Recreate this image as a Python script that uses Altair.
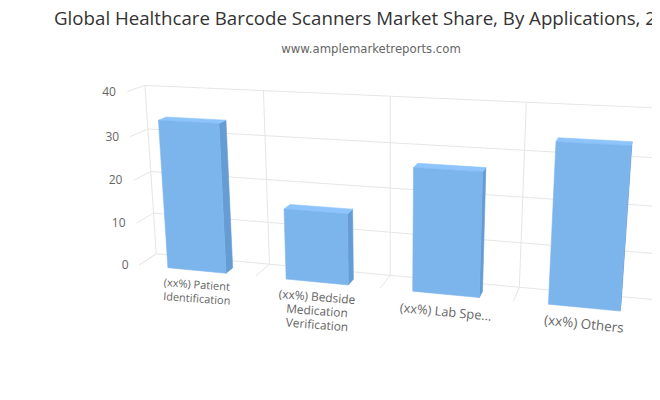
import numpy as np
import pandas as pd
import altair as alt

TITLE = "Global Healthcare Barcode Scanners Market Share, By Applications, 2020"
SUBTITLE = "www.amplemarketreports.com"
VALUES = [34, 16, 27, 34]
LABELS = [["(xx%) Patient", "Identification"],
          ["(xx%) Bedside", "Medication", "Verification"],
          ["(xx%) Lab Spe..."],
          ["(xx%) Others"]]
LABEL_ANGLES = [4, 4.5, 5.5, 6]
LABEL_SIZES = [11, 11.9, 12.8, 13.5]
LABEL_GAPS = [15, 15, 18, 17]
Y_TICKS = [0, 10, 20, 30, 40]

FRONT = "#7cb5ec"
SIDE = "#659cd3"
TOP = "#8cc4fb"
GRID = "#e6e6e6"
W, H = 644, 384
BAR_DEPTH = 0.45

# camera of the 3D scene: (category, value, depth) -> page pixel, fitted by DLT
CAMERA_REF = [
    (0, 0, 1, 157, 254), (1, 0, 1, 269, 264), (2, 0, 1, 390, 274), (3, 0, 1, 519, 288), (4, 0, 1, 658, 301),
    (0, 40, 1, 145, 85), (1, 40, 1, 263, 91), (2, 40, 1, 391, 96), (3, 40, 1, 526, 102),
    (0, 0, 0, 139, 265), (1, 0, 0, 255, 276), (2, 0, 0, 380, 288), (3, 0, 0, 514, 301), (4, 0, 0, 657, 314),
    (0, 40, 0, 127, 92),
    (.25, 0, 0, 168, 268), (.75, 0, 0, 226, 273), (1.25, 0, 0, 287, 279), (1.75, 0, 0, 348, 285),
    (2.25, 0, 0, 414, 292), (2.75, 0, 0, 479, 297), (3.25, 0, 0, 549, 304), (3.75, 0, 0, 619, 311),
]
A = []
for cx, cy, cz, px, py in CAMERA_REF:
    v = [cx, cy / 40, cz, 1]
    u, t = px / 500, py / 500
    A.append(v + [0, 0, 0, 0] + [-u * a for a in v])
    A.append([0, 0, 0, 0] + v + [-t * a for a in v])
P = np.linalg.svd(np.array(A))[2][-1].reshape(3, 4)


def project(cx, val, depth):
    r = P @ np.array([cx, val / 40, depth, 1.0])
    return float(500 * r[0] / r[2] - 8), float(500 * r[1] / r[2] - 8)


# grid
grid = []
def seg(a, b):
    (x, y), (x2, y2) = project(*a), project(*b)
    grid.append(dict(x=x, y=y, x2=x2, y2=y2))

for t in Y_TICKS:
    seg((0, t, 1), (4.6, t, 1))
    seg((0, t, 1), (0, t, 0))
for c in range(0, 5):
    seg((c, 0, 1), (c, 40, 1))
    seg((c, 0, 1), (c, 0, 0))

# bar faces
faces = {"side": [], "top": [], "front": []}
for i, v in enumerate(VALUES):
    l, r = i + .25, i + .75
    quads = {
        "side": [(r, 0, 0), (r, v, 0), (r, v, BAR_DEPTH), (r, 0, BAR_DEPTH)],
        "top": [(l, v, 0), (r, v, 0), (r, v, BAR_DEPTH), (l, v, BAR_DEPTH)],
        "front": [(l, 0, 0), (r, 0, 0), (r, v, 0), (l, v, 0)],
    }
    for name, q in quads.items():
        for k, c in enumerate(q + q[:1]):
            x, y = project(*c)
            faces[name].append(dict(bar=i, k=k, x=x, y=y))

# texts
texts = []
for i, lines in enumerate(LABELS):
    x, y = project(i + .5, 0, 0)
    for j, s in enumerate(lines):
        texts.append(dict(x=x, y=y + LABEL_GAPS[i] + 14 * j, s=s, a=LABEL_ANGLES[i], fs=LABEL_SIZES[i]))
ticks = []
for t in Y_TICKS:
    x, y = project(0, t, 0)
    ticks.append(dict(x=x - 11, y=y, s=str(t)))
heads = [dict(x=371 - 8, y=19 - 8, s=TITLE), dict(x=371 - 8, y=49 - 8, s=SUBTITLE)]

X = alt.X("x:Q", scale=alt.Scale(domain=[0, W], nice=False, zero=False), axis=None)
Y = alt.Y("y:Q", scale=alt.Scale(domain=[H, 0], nice=False, zero=False), axis=None)

g = alt.Chart(pd.DataFrame(grid)).mark_rule(color=GRID, strokeWidth=1).encode(X, Y, x2="x2:Q", y2="y2:Q")


def face(name, color):
    return alt.Chart(pd.DataFrame(faces[name])).mark_line(
        fill=color, filled=True, stroke=color, strokeWidth=0.6, interpolate="linear"
    ).encode(X, Y, detail="bar:N", order="k:Q")


cat = alt.Chart(pd.DataFrame(texts)).mark_text(
    font="Open Sans", color="#666666", align="center", baseline="middle"
).encode(
    X, Y, text="s:N",
    angle=alt.Angle("a:Q", scale=None),
    size=alt.Size("fs:Q", scale=None, legend=None),
)
tk = alt.Chart(pd.DataFrame(ticks)).mark_text(
    font="Open Sans", fontSize=12, color="#666666", align="right", baseline="middle"
).encode(X, Y, text="s:N")
t1 = alt.Chart(pd.DataFrame(heads[:1])).mark_text(
    font="Open Sans", fontSize=18.7, color="#333333", align="center", baseline="middle"
).encode(X, Y, text="s:N")
t2 = alt.Chart(pd.DataFrame(heads[1:])).mark_text(
    font="DejaVu Sans", fontSize=11.7, color="#666666", align="center", baseline="middle"
).encode(X, Y, text="s:N")

chart = alt.layer(g, face("side", SIDE), face("top", TOP), face("front", FRONT), cat, tk, t1, t2).properties(
    width=W, height=H, padding=0, autosize=alt.AutoSizeParams(type="none")
).configure_view(stroke=None)

chart.save("out.html", embed_options={"renderer": "svg", "actions": False})
